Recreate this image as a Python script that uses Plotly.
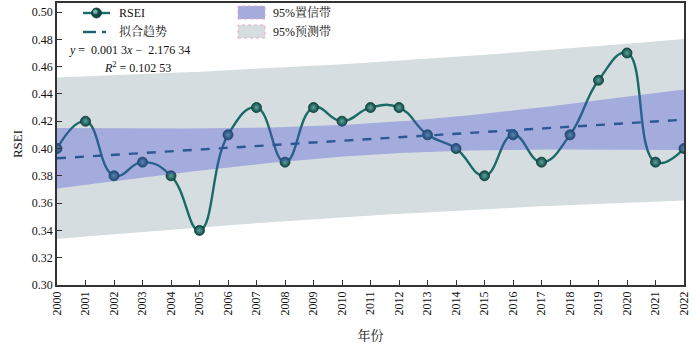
import numpy as np
import plotly.graph_objects as go

years = list(range(2000, 2023))
rsei = [0.40, 0.42, 0.38, 0.39, 0.38, 0.34, 0.41, 0.43, 0.39, 0.43, 0.42, 0.43,
        0.43, 0.41, 0.40, 0.38, 0.41, 0.39, 0.41, 0.45, 0.47, 0.39, 0.40]
tick_years = [str(y) for y in years]
y_ticks = [0.30, 0.32, 0.34, 0.36, 0.38, 0.40, 0.42, 0.44, 0.46, 0.48, 0.50]
series_names = ["RSEI", "拟合趋势"]
band_names = ["95%置信带", "95%预测带"]
T_CRIT = 2.0796  # t(0.975, df=21)

x = np.array(years, dtype=float)
y = np.array(rsei)
n = len(x)
slope, intercept = np.polyfit(x, y, 1)
resid = y - (slope * x + intercept)
s = np.sqrt(np.sum(resid ** 2) / (n - 2))
xm = x.mean()
sxx = np.sum((x - xm) ** 2)
xg = np.linspace(x.min(), x.max(), 200)
yg = slope * xg + intercept
ci = T_CRIT * s * np.sqrt(1 / n + (xg - xm) ** 2 / sxx)
pi = T_CRIT * s * np.sqrt(1 + 1 / n + (xg - xm) ** 2 / sxx)

FONT = "Times New Roman, Liberation Serif, Noto Serif CJK SC, Noto Sans CJK SC, serif"
PRED_COL = "#d5dde0"
CONF_COL = "rgba(73,81,213,0.35)"
CONF_LEG = "#a4acdc"
LINE_COL = "#1b6a66"
FIT_COL = "#1d5f6e"

fig = go.Figure()
fig.add_trace(go.Scatter(
    x=np.concatenate([xg, xg[::-1]]), y=np.concatenate([yg + pi, (yg - pi)[::-1]]),
    fill="toself", fillcolor=PRED_COL, line=dict(width=0), mode="lines",
    name=band_names[1], showlegend=False, hoverinfo="skip"))
fig.add_trace(go.Scatter(
    x=years, y=rsei, mode="lines+markers", name=series_names[0], showlegend=False,
    line=dict(color=LINE_COL, width=2.4, shape="spline", smoothing=1.3),
    marker=dict(size=10, color="#0e4844",
                gradient=dict(type="radial", color="#5fa39c"),
                line=dict(color="#0b3a37", width=0.8))))
fig.add_trace(go.Scatter(
    x=xg, y=yg, mode="lines", name=series_names[1], showlegend=False,
    line=dict(color=FIT_COL, width=2.4, dash="dash")))
fig.add_trace(go.Scatter(
    x=np.concatenate([xg, xg[::-1]]), y=np.concatenate([yg + ci, (yg - ci)[::-1]]),
    fill="toself", fillcolor=CONF_COL, line=dict(width=0), mode="lines",
    name=band_names[0], showlegend=False, hoverinfo="skip"))

axis_common = dict(showline=True, linecolor="#333333", linewidth=1.5, mirror=True,
                   ticks="inside", ticklen=5, tickcolor="#333333", showgrid=False,
                   zeroline=False, tickfont=dict(family=FONT, size=12, color="#111"))

L, R, T, B, W, H = 57, 16, 3, 60, 700, 345
pw, ph = W - L - R, H - T - B


def px2paper(px, py):
    return (px - L) / pw, (H - B - py) / ph


fig.update_layout(
    width=W, height=H,
    margin=dict(l=L, r=R, t=T, b=B, autoexpand=False),
    paper_bgcolor="white", plot_bgcolor="white",
    font=dict(family=FONT, size=12, color="#111"),
    xaxis=dict(range=[2000, 2022], tickmode="array", tickvals=years, ticktext=tick_years,
               tickangle=-90, title=dict(text="年份", font=dict(family=FONT, size=13), standoff=16),
               **axis_common),
    yaxis=dict(range=[0.30, 0.5066], tickmode="array", tickvals=y_ticks,
               ticktext=[f"{v:.2f}" for v in y_ticks],
               title=dict(text="RSEI", font=dict(family=FONT, size=13), standoff=6),
               **axis_common),
    showlegend=False,
)


def pline(x0p, y0p, x1p, y1p, color, width, dash="solid"):
    a, b = px2paper(x0p, y0p)
    c, d = px2paper(x1p, y1p)
    fig.add_shape(type="line", xref="paper", yref="paper", x0=a, y0=b, x1=c, y1=d,
                  line=dict(color=color, width=width, dash=dash), layer="above")


def pcircle(cx, cy, r, fill, line_col=None):
    a, b = px2paper(cx - r, cy + r)
    c, d = px2paper(cx + r, cy - r)
    fig.add_shape(type="circle", xref="paper", yref="paper", x0=a, y0=b, x1=c, y1=d,
                  fillcolor=fill, line=dict(color=line_col or fill, width=0.8), layer="above")


def label(px, py, text):
    tx, ty = px2paper(px, py)
    fig.add_annotation(xref="paper", yref="paper", x=tx, y=ty, xanchor="left", yanchor="middle",
                       showarrow=False, font=dict(family=FONT, size=12), text=text)


# legend: RSEI
pline(83, 13, 110, 13, LINE_COL, 2.4)
pcircle(96.5, 13, 5, "#0e4844", "#0b3a37")
pcircle(95.3, 11.8, 2, "#6fb0a8")
label(117, 13, series_names[0])
# legend: fit
pline(83, 32, 96, 32, FIT_COL, 2.4)
pline(102, 32, 106, 32, FIT_COL, 2.4)
label(117, 32, series_names[1])

# legend: bands
for i, (name, col) in enumerate(zip(band_names, [CONF_LEG, PRED_COL])):
    x0, y0 = px2paper(238, 6 + 19 * i)
    x1, y1 = px2paper(265, 19 + 19 * i)
    fig.add_shape(type="rect", xref="paper", yref="paper", x0=x0, x1=x1, y0=y1, y1=y0,
                  fillcolor=col, line=dict(color="#f2a6bd", width=1, dash="dot"), layer="above")
    label(271, 12.5 + 19 * i, name)

label(67, 50, "<i>y</i> =  0.001 3<i>x</i> −  2.176 34")
label(102, 67, "<i>R</i><sup>2</sup> = 0.102 53")

fig.write_html("out.html")
